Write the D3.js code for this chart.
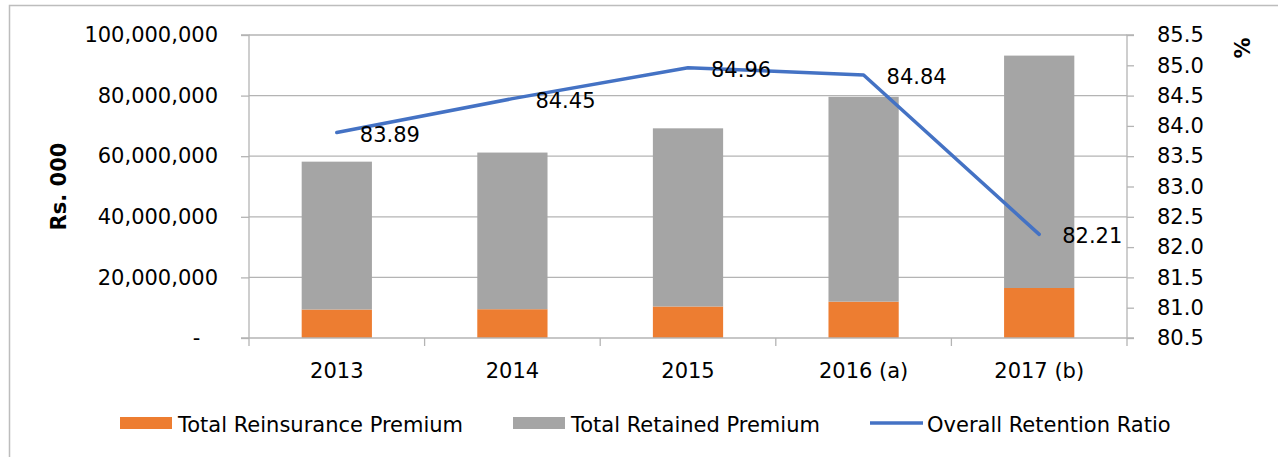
<!DOCTYPE html>
<html>
<head>
<meta charset="utf-8">
<script src="https://cdn.jsdelivr.net/npm/d3@7"></script>
<style>
  body { margin: 0; background: #fff; }
  text { font-family: 'DejaVu Sans', sans-serif; fill: #000; }
</style>
</head>
<body>
<div id="chart"></div>
<script>
// chart values
var years = ['2013', '2014', '2015', '2016 (a)', '2017 (b)']
var reinsurance = [9400000, 9500000, 10400000, 12000000, 16500000]
var retained = [48800000, 51700000, 58800000, 67600000, 76700000]
var retentionRatio = [83.89, 84.45, 84.96, 84.84, 82.21]
var leftTicks = [0, 20000000, 40000000, 60000000, 80000000, 100000000]
var rightTicks = [80.5, 81, 81.5, 82, 82.5, 83, 83.5, 84, 84.5, 85, 85.5]
var legendNames = ['Total Reinsurance Premium', 'Total Retained Premium', 'Overall Retention Ratio']

var width = 1278
var height = 457
var margin = { top: 35, right: 151, bottom: 119, left: 249 }
var gridColor = '#b4b4b4'
var fontSize = '21px'

var svg = d3.select('#chart').append('svg')
  .attr('width', width)
  .attr('height', height)

// outer frame (only top and left edges show)
svg.append('rect')
  .attr('x', 9.5).attr('y', 5.5)
  .attr('width', width).attr('height', height)
  .attr('fill', 'none')
  .attr('stroke', '#bdbdbd')
  .attr('stroke-width', 1.5)

var x = d3.scaleBand()
  .domain(years)
  .range([margin.left, width - margin.right])
  .paddingInner(0.6)
  .paddingOuter(0.3)

var y = d3.scaleLinear()
  .domain([0, 100000000])
  .range([height - margin.bottom, margin.top])

var y2 = d3.scaleLinear()
  .domain([80.5, 85.5])
  .range([height - margin.bottom, margin.top])

var x0 = margin.left
var x1 = width - margin.right
var yBase = height - margin.bottom

// gridlines
svg.append('g')
  .selectAll('line')
  .data(leftTicks.slice(1))
  .enter()
  .append('line')
  .attr('x1', x0).attr('x2', x1)
  .attr('y1', d => y(d)).attr('y2', d => y(d))
  .attr('stroke', gridColor)
  .attr('stroke-width', 1.3)

// stacked bars
var stacked = years.map((d, i) => ({ name: d, a: reinsurance[i], b: retained[i] }))
var series = d3.stack().keys(['a', 'b'])(stacked)
var barColors = ['#ed7d31', '#a5a5a5']

svg.append('g')
  .selectAll('g')
  .data(series)
  .enter()
  .append('g')
  .attr('fill', (d, i) => barColors[i])
  .selectAll('rect')
  .data(d => d)
  .enter()
  .append('rect')
  .attr('x', d => x(d.data.name))
  .attr('y', d => y(d[1]))
  .attr('height', d => y(d[0]) - y(d[1]))
  .attr('width', x.bandwidth())

// left axis
var leftAxis = svg.append('g')
  .attr('transform', `translate(${x0},0)`)
  .call(d3.axisLeft(y).tickValues(leftTicks).tickSize(8).tickPadding(23)
    .tickFormat(d => d === 0 ? '-\u2007\u2009' : d3.format(',')(d)))
leftAxis.select('.domain').attr('stroke', gridColor).attr('stroke-width', 1.3)
  .attr('d', `M-8,${y(100000000)}H0V${yBase + 8}`)
leftAxis.selectAll('.tick line').attr('stroke', gridColor).attr('stroke-width', 1.3)
leftAxis.selectAll('text').style('font-size', fontSize).style('white-space', 'pre')
  .attr('font-family', null)

// right axis
var rightAxis = svg.append('g')
  .attr('transform', `translate(${x1},0)`)
  .call(d3.axisRight(y2).tickValues(rightTicks).tickSize(7).tickPadding(23)
    .tickFormat(d3.format('.1f')))
rightAxis.select('.domain').attr('stroke', gridColor).attr('stroke-width', 1.3)
  .attr('d', `M7,${y2(85.5)}H0V${yBase + 8}`)
rightAxis.selectAll('.tick line').attr('stroke', gridColor).attr('stroke-width', 1.3)
rightAxis.selectAll('text').style('font-size', fontSize).attr('font-family', null)

// bottom axis
svg.append('line')
  .attr('x1', x0 - 8).attr('x2', x1 + 7)
  .attr('y1', yBase).attr('y2', yBase)
  .attr('stroke', gridColor).attr('stroke-width', 1.3)

svg.append('g')
  .selectAll('line')
  .data(years.slice(1))
  .enter()
  .append('line')
  .attr('x1', d => x(d) - x.step() * x.paddingInner() / 2)
  .attr('x2', d => x(d) - x.step() * x.paddingInner() / 2)
  .attr('y1', yBase).attr('y2', yBase + 8)
  .attr('stroke', gridColor).attr('stroke-width', 1.3)

svg.append('g')
  .selectAll('text')
  .data(years)
  .enter()
  .append('text')
  .attr('x', d => x(d) + x.bandwidth() / 2)
  .attr('y', yBase + 40)
  .attr('text-anchor', 'middle')
  .style('font-size', fontSize)
  .text(d => d)

// retention ratio line
var points = years.map((d, i) => ({ name: d, value: retentionRatio[i] }))
var line = d3.line()
  .x(d => x(d.name) + x.bandwidth() / 2)
  .y(d => y2(d.value))

svg.append('path')
  .datum(points)
  .attr('d', line)
  .attr('fill', 'none')
  .attr('stroke', '#4472c4')
  .attr('stroke-width', 3.5)
  .attr('stroke-linecap', 'round')
  .attr('stroke-linejoin', 'round')

svg.append('g')
  .selectAll('text')
  .data(points)
  .enter()
  .append('text')
  .attr('x', d => x(d.name) + x.bandwidth() / 2 + 23)
  .attr('y', d => y2(d.value) + 9)
  .style('font-size', fontSize)
  .text(d => d3.format('.2f')(d.value))

// axis titles
svg.append('text')
  .attr('transform', `translate(66,${(margin.top + yBase) / 2}) rotate(-90)`)
  .attr('text-anchor', 'middle')
  .style('font-size', fontSize)
  .style('font-weight', 'bold')
  .text('Rs. 000')

svg.append('text')
  .attr('transform', `translate(1250,48) rotate(-90)`)
  .attr('text-anchor', 'middle')
  .style('font-size', fontSize)
  .style('font-weight', 'bold')
  .text('%')

// legend
var legendX = [120, 513, 870]
var legend = svg.append('g')
  .selectAll('g')
  .data(legendNames)
  .enter()
  .append('g')
  .attr('transform', (d, i) => `translate(${legendX[i]},423)`)

legend.filter((d, i) => i < 2)
  .append('rect')
  .attr('x', 0).attr('y', -6)
  .attr('width', 52).attr('height', 12)
  .attr('fill', (d, i) => barColors[i])

legend.filter((d, i) => i === 2)
  .append('line')
  .attr('x1', 0).attr('x2', 53)
  .attr('y1', 0).attr('y2', 0)
  .attr('stroke', '#4472c4')
  .attr('stroke-width', 3.5)

legend.append('text')
  .attr('x', (d, i) => i === 2 ? 57 : 58)
  .attr('y', 9)
  .style('font-size', fontSize)
  .text(d => d)
</script>
</body>
</html>
